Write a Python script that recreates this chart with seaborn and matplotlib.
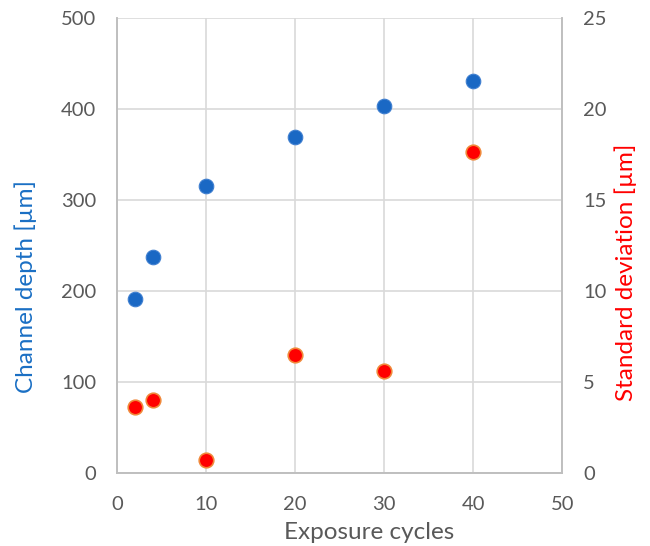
import matplotlib
matplotlib.use("Agg")
import matplotlib.pyplot as plt
import seaborn as sns

# data
cycles = [2, 4, 10, 20, 30, 40]
depth = [191, 237, 315, 369, 403, 431]
std_dev = [3.6, 4.0, 0.7, 6.45, 5.6, 17.65]

sns.set_style("white")
plt.rcParams['font.family'] = ['Lato', 'DejaVu Sans']

grey = "#595959"
grid_c = "#d9d9d9"

fig = plt.figure(figsize=(6.5, 5.46), dpi=100)
ax = fig.add_axes([0.18, 0.134, 0.685, 0.833])
ax2 = ax.twinx()

sns.scatterplot(x=cycles, y=depth, ax=ax, s=110, color="#1a68c4",
                edgecolor="#3f7fd0", linewidth=0.8, zorder=3)
sns.scatterplot(x=cycles, y=std_dev, ax=ax2, s=110, color="#ff0000",
                edgecolor="#f0883a", linewidth=1.2, zorder=3)

ax.set_xlim(0, 50)
ax.set_ylim(0, 500)
ax2.set_ylim(0, 25)
ax.set_xticks(range(0, 51, 10))
ax.set_yticks(range(0, 501, 100))
ax2.set_yticks(range(0, 26, 5))

ax.grid(True, color=grid_c, linewidth=1.2)
ax.set_axisbelow(True)

for a in (ax, ax2):
    a.spines["top"].set_visible(False)
    for side in ("left", "bottom", "right"):
        a.spines[side].set_color("#bfbfbf")
        a.spines[side].set_linewidth(1.2)
    a.tick_params(colors=grey, labelsize=14.5, length=0, pad=15)
ax.tick_params(axis="x", pad=17)

ax.set_xlabel("Exposure cycles", color=grey, fontsize=17.5, va="center")
ax.set_ylabel("Channel depth [µm]", color="#1a6fc4", fontsize=17.5, va="center")
ax2.set_ylabel("Standard deviation [µm]", color="#ff0000", fontsize=17.5, va="center")
ax.xaxis.set_label_coords(0.566, -0.132)
ax.yaxis.set_label_coords(-0.204, 0.41)
ax2.yaxis.set_label_coords(1.142, 0.44)

fig.savefig("out.png", dpi=100)
